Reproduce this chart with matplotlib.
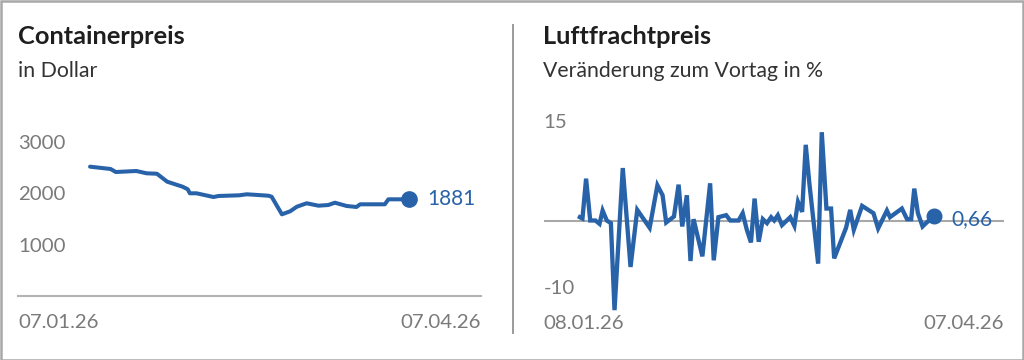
import matplotlib
matplotlib.use("Agg")
import matplotlib.pyplot as plt
from matplotlib.lines import Line2D
from matplotlib.patches import Rectangle

# ---------------- data ----------------
# Containerpreis (USD), x = days since 07.01.26
container_days = [14, 18, 19, 23, 25, 27, 29, 32, 33, 33.4, 34.7, 38, 39, 43, 44.5,
                  48.7, 49.3, 51.3, 52.9, 54.2, 56.1, 58.4, 60.3, 61.6, 63.9, 65.8,
                  66.5, 71.3, 72, 76]
container_vals = [2516, 2471, 2412, 2432, 2387, 2379, 2224, 2126, 2076, 1998, 1998,
                  1926, 1946, 1959, 1979, 1951, 1932, 1589, 1648, 1737, 1804, 1757,
                  1770, 1815, 1751, 1732, 1784, 1784, 1881, 1881]
container_yticks = [1000, 2000, 3000]
container_xlabels = ["07.01.26", "07.04.26"]
container_span = 90

# Luftfrachtpreis (% change vs previous day), x = days since 08.01.26
air_days = [7.0, 7.5, 8.2, 9.0, 10.0, 10.8, 11.4, 12.2, 13.0, 13.7, 15.3, 16.8, 18.1,
            20.5, 22.0, 23.0, 23.7, 25.2, 26.1, 26.8, 27.7, 28.4, 29.0, 30.7, 32.2,
            32.9, 33.8, 35.3, 36.1, 37.7, 38.5, 39.3, 40.1, 40.8, 41.6, 42.4, 43.2,
            44.0, 44.6, 45.3, 46.1, 47.7, 48.5, 49.2, 50.0, 50.7, 51.4, 53.1, 53.8,
            54.7, 55.6, 56.2, 58.5, 59.3, 60.0, 61.6, 63.8, 64.7, 66.4, 67.0, 69.3,
            70.3, 71.1, 71.7, 72.4, 73.3, 74.1, 75.6]
air_vals = [0.5, 0.3, 6.3, 0.0, 0.0, -0.5, 1.5, 0.0, -0.4, -13.5, 7.9, -7.0, 1.6,
            -1.1, 5.3, 3.8, -0.3, 0.6, 5.4, -0.9, 3.8, -6.1, 0.2, -5.4, 5.6, -6.0,
            0.5, 0.8, 0.0, 0.0, 1.1, -1.4, -3.3, 3.3, -3.2, 0.2, -0.4, 0.5, 0.0, 0.8,
            -0.7, 0.5, -0.8, 2.8, 1.3, 11.4, 5.6, -6.5, 13.3, 1.8, 1.8, -5.7, -1.1,
            1.6, -1.4, 2.2, 1.1, -1.2, 1.5, 0.5, 1.8, 0.2, 0.2, 4.8, 1.1, -0.9, -0.3,
            0.66]
air_yticks = [-10, 15]
air_xlabels = ["08.01.26", "07.04.26"]
air_span = 89

# ---------------- style ----------------
FONT = "Lato"
BLUE = "#2862a8"
GRAY_TXT = "#7a7a7a"
DARK = "#1e1e1e"
SUB = "#333333"
W, H = 1024, 360
TITLE_FS = 18.3
SUB_FS = 15.3
TICK_FS = 14.7
VAL_FS = 15

plt.rcParams["font.family"] = [FONT, "DejaVu Sans"]

fig = plt.figure(figsize=(W / 100, H / 100), dpi=100)


def box(l, r, t, b):
    return [l / W, (H - b) / H, (r - l) / W, (b - t) / H]


# outer frame and divider
fig.patches.append(Rectangle((0.5 / W, 0.5 / H), (W - 1.5) / W, (H - 1.5) / H,
                             transform=fig.transFigure, fill=False,
                             edgecolor="#a8a8a8", lw=1.8))
fig.lines.append(Line2D([512.5 / W, 512.5 / W], [(H - 25) / H, (H - 333) / H],
                        transform=fig.transFigure, color="#9a9a9a", lw=1.4))

# titles
fig.text(18 / W, (H - 36) / H, "Containerpreis", fontsize=TITLE_FS, fontweight="bold",
         color=DARK, va="center", ha="left")
fig.text(18 / W, (H - 71) / H, "in Dollar", fontsize=SUB_FS, color=SUB,
         va="center", ha="left")
fig.text(543 / W, (H - 36) / H, "Luftfrachtpreis", fontsize=TITLE_FS, fontweight="bold",
         color=DARK, va="center", ha="left")
fig.text(543 / W, (H - 71) / H, "Veränderung zum Vortag in %", fontsize=SUB_FS,
         color=SUB, va="center", ha="left")

# ---------------- left chart ----------------
ax1 = fig.add_axes(box(18, 481, 100, 296))
ax1.plot(container_days, container_vals, color=BLUE, lw=2.9, solid_joinstyle="round",
         solid_capstyle="round")
ax1.plot(container_days[-1], container_vals[-1], "o", color=BLUE, ms=11)
ax1.annotate(f"{container_vals[-1]}", (container_days[-1], container_vals[-1]),
             xytext=(13, 0), textcoords="offset points", color=BLUE,
             fontsize=VAL_FS, va="center", ha="left")
ax1.set_xlim(0, container_span)
ax1.set_ylim(0, 196 / 51.4 * 1000)
for s in ["top", "right", "left"]:
    ax1.spines[s].set_visible(False)
ax1.spines["bottom"].set_color("#b4b4b4")
ax1.spines["bottom"].set_linewidth(1.5)
ax1.set_yticks(container_yticks, [str(v) for v in container_yticks])
ax1.tick_params(axis="y", length=0, pad=0, labelsize=TICK_FS, labelcolor=GRAY_TXT)
for lab in ax1.get_yticklabels():
    lab.set_horizontalalignment("left")
ax1.set_xticks([0, container_span], container_xlabels)
ax1.tick_params(axis="x", length=0, pad=13, labelsize=TICK_FS, labelcolor=GRAY_TXT)
xl = ax1.get_xticklabels()
xl[0].set_horizontalalignment("left")
xl[1].set_horizontalalignment("right")

# ---------------- right chart ----------------
ax2 = fig.add_axes(box(543.7, 1003.7, 100, 315))
ax2.axhline(0, color="#a8a8a8", lw=1.5, zorder=1)
ax2.plot(air_days, air_vals, color=BLUE, lw=3.1, solid_joinstyle="miter", zorder=2)
ax2.plot(air_days[-1], air_vals[-1], "o", color=BLUE, ms=10.5, zorder=3)
ax2.annotate(f"{air_vals[-1]:.2f}".replace(".", ","), (air_days[-1], air_vals[-1]),
             xytext=(12, -2), textcoords="offset points", color=BLUE,
             fontsize=VAL_FS, va="center", ha="left")
ax2.set_xlim(0, air_span)
ax2.set_ylim(-(315 - 220.5) / 6.64, (220.5 - 100) / 6.64)
for s in ax2.spines.values():
    s.set_visible(False)
ax2.set_yticks(air_yticks, [str(v) for v in air_yticks])
ax2.tick_params(axis="y", length=0, pad=0, labelsize=TICK_FS, labelcolor=GRAY_TXT)
for lab in ax2.get_yticklabels():
    lab.set_horizontalalignment("left")
ax2.set_xticks([0, air_span], air_xlabels)
ax2.tick_params(axis="x", length=0, pad=0, labelsize=TICK_FS, labelcolor=GRAY_TXT)
xl = ax2.get_xticklabels()
xl[0].set_horizontalalignment("left")
xl[1].set_horizontalalignment("right")

fig.savefig("out.png", dpi=100, facecolor="white")
